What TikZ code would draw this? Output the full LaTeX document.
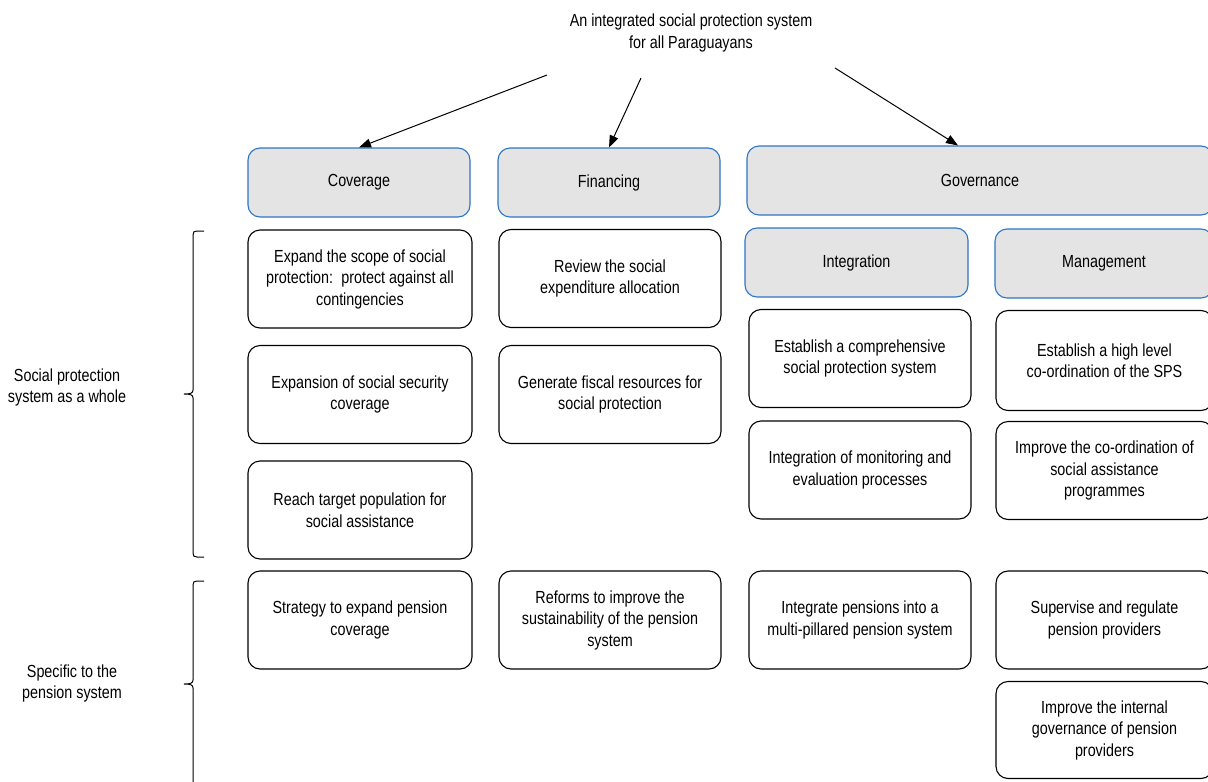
\documentclass[tikz,border=0pt]{standalone}
\usepackage{fontspec}
\setmainfont[FakeStretch=0.82]{Liberation Sans}
\usetikzlibrary{arrows.meta,calc}
\definecolor{hdrfill}{HTML}{E4E4E4}
\definecolor{hdrline}{HTML}{2E75C6}
\tikzset{
  base/.style={rounded corners=12pt, align=center, font=\fontsize{17.5}{21.5}\selectfont, inner sep=2pt},
  header/.style={base, draw=hdrline, fill=hdrfill, line width=1.1pt, minimum height=69pt},
  item/.style={base, draw=black, fill=white, line width=1.1pt, minimum height=98pt},
  lbl/.style={align=center, font=\fontsize{17.5}{21}\selectfont},
  link/.style={line width=1pt, -{Triangle[length=12pt,width=9pt]}},
  bracket/.style={line width=1pt}
}
\begin{document}
\begin{tikzpicture}[x=1pt,y=-1pt]
\clip (0,0) rectangle (1208,782);
\fill[white] (0,0) rectangle (1208,782);

% goal
\node[lbl, font=\fontsize{17.5}{22}\selectfont] (goal) at (691,33) {An integrated social protection system\\for all Paraguayans};

% pillars
\node[header, minimum width=222pt] (cov) at (359,182.5) {Coverage};
\node[header, minimum width=222pt] (fin) at (609,182.5) {Financing};
\node[header, minimum width=466pt] (gov) at (980,180.5) {Governance};
\node[header, minimum width=223pt] (int) at (856.5,262.5) {Integration};
\node[header, minimum width=218pt] (man) at (1104,263.5) {Management};

% coverage column
\node[item, minimum width=224pt] (c1) at (360,279) {Expand the scope of social\\protection:\, protect against all\\contingencies};
\node[item, minimum width=224pt] (c2) at (360,394.5) {Expansion of social security\\coverage};
\node[item, minimum width=224pt] (c3) at (360,510) {Reach target population for\\social assistance};
\node[item, minimum width=224pt] (c4) at (360,620) {Strategy to expand pension\\coverage};

% financing column
\node[item, minimum width=222pt] (f1) at (610,278.5) {Review the social\\expenditure allocation};
\node[item, minimum width=222pt] (f2) at (610,394.5) {Generate fiscal resources for\\social protection};
\node[item, minimum width=222pt] (f3) at (610,620) {Reforms to improve the\\sustainability of the pension\\system};

% integration column
\node[item, minimum width=222pt] (i1) at (860,358.5) {Establish a comprehensive\\social protection system};
\node[item, minimum width=222pt] (i2) at (860,470) {Integration of monitoring and\\evaluation processes};
\node[item, minimum width=222pt] (i3) at (860,620) {Integrate pensions into a\\multi-pillared pension system};

% management column
\node[item, minimum width=217pt, minimum height=100pt] (m1) at (1104.5,360.5) {Establish a high level\\co-ordination of the SPS};
\node[item, minimum width=217pt] (m2) at (1104.5,470.5) {Improve the co-ordination of\\social assistance\\programmes};
\node[item, minimum width=217pt] (m3) at (1104.5,620) {Supervise and regulate\\pension providers};
\node[item, minimum width=217pt, minimum height=97pt] (m4) at (1104.5,730) {Improve the internal\\governance of pension\\providers};

% arrows from the goal
\coordinate (a1) at (547,75);
\coordinate (a2) at (641,78);
\coordinate (a3) at (835,68);
\draw[link] (a1) -- (cov.north);
\draw[link] (a2) -- (fin.north);
\draw[link] (a3) -- ($(gov.north)+(-22,0)$);

% side labels
\node[lbl] (whole) at (67,387) {Social protection\\system as a whole};
\node[lbl] (pens) at (72,683) {Specific to the\\pension system};

% brackets
\draw[bracket] (204,231) -- (197,231) .. controls (194,231) and (193,232) .. (193,235)
  -- (193,390) .. controls (193,393) and (191,394) .. (184,394)
  .. controls (191,394) and (193,395) .. (193,398)
  -- (193,553) .. controls (193,556) and (194,557) .. (197,557) -- (204,557);
\draw[bracket] (204,581) -- (197,581) .. controls (194,581) and (193,582) .. (193,585)
  -- (193,680) .. controls (193,683) and (191,684) .. (184,684)
  .. controls (191,684) and (193,685) .. (193,688)
  -- (193,800);
\end{tikzpicture}
\end{document}
